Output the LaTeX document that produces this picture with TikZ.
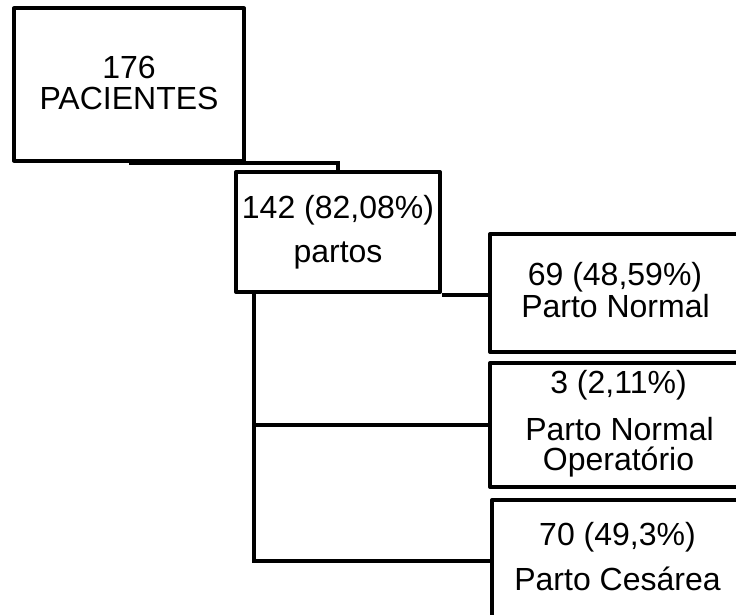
\documentclass[tikz,border=0pt]{standalone}
\usepackage{fontspec}
\setmainfont{Liberation Sans}
\begin{document}
\begin{tikzpicture}[x=1pt,y=-1pt,
  box/.style={draw=black,line width=4pt,rectangle,inner sep=0pt,line join=round},
  conn/.style={draw=black,line width=4pt},
  lbl/.style={anchor=base,inner sep=0pt,font=\fontsize{32}{32}\selectfont}]
\useasboundingbox (0,0) rectangle (736,615);
% boxes
\node[box,minimum width=230pt,minimum height=152pt] (b1) at (129,84.5) {};
\node[box,minimum width=204pt,minimum height=120pt] (b2) at (338,232) {};
\node[box,minimum width=260pt,minimum height=118pt,anchor=north west] (b3) at (488,232) {};
\node[box,minimum width=260pt,minimum height=124pt,anchor=north west] (b4) at (488,361) {};
\node[box,minimum width=260pt,minimum height=122pt,anchor=north west] (b5) at (490,498) {};
% texts
\node[lbl] (t1a) at (129,79) {176};
\node[lbl] (t1b) at (129,110) {PACIENTES};
\node[lbl] (t2a) at (338,218) {142 (82,08\%)};
\node[lbl] (t2b) at (338,262) {partos};
\node[lbl] (t3a) at (615,285) {69 (48,59\%)};
\node[lbl] (t3b) at (615.5,317) {Parto Normal};
\node[lbl] (t4a) at (618.5,393) {3 (2,11\%)};
\node[lbl] (t4b) at (619.5,440) {Parto Normal};
\node[lbl] (t4c) at (618.5,470) {Operatório};
\node[lbl] (t5a) at (617.5,545) {70 (49,3\%)};
\node[lbl] (t5b) at (617.5,590) {Parto Cesárea};
% connectors
\coordinate (trunk) at ([xshift=20pt]b2.south west);
\draw[conn] (b1.south) -| (b2.north);
\draw[conn] ([yshift=-1pt]b2.south east) -- ([yshift=-1pt]b2.south east -| b3.west);
\draw[conn] (trunk) |- (b4.west);
\draw[conn] (trunk) |- (b5.west);
\end{tikzpicture}
\end{document}
